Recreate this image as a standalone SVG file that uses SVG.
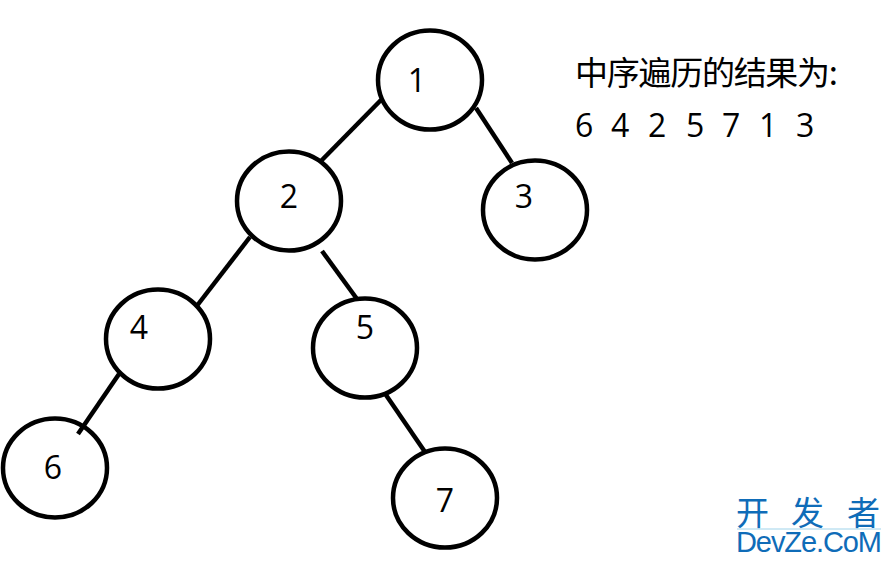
<svg xmlns="http://www.w3.org/2000/svg" width="892" height="564" viewBox="0 0 892 564">
<style>
.n{fill:none;stroke:#000;stroke-width:4.500}
.c line{stroke:#000;stroke-width:4.500;stroke-linecap:butt}
text{font-family:"Open Sans","Noto Sans CJK SC",sans-serif;fill:#000;font-size:32px}
.l{text-anchor:middle}
.cn{font-family:"Noto Sans CJK SC","Noto Sans",sans-serif;font-size:33px}
.logo{font-family:"Noto Sans CJK SC",sans-serif;fill:#0f6cb8;font-size:33px}
.dz{font-family:"Liberation Sans",sans-serif;fill:#0f6cb8;font-size:29px}
</style>
<rect width="892" height="564" fill="#fff"/>
<g id="connectors" class="c">
<line x1="381" y1="100" x2="321" y2="161"/>
<line x1="476" y1="108" x2="512" y2="163"/>
<line x1="250" y1="237" x2="196" y2="307"/>
<line x1="322" y1="251" x2="357" y2="299"/>
<line x1="119" y1="374" x2="78" y2="434"/>
<line x1="386" y1="395" x2="425" y2="452"/>
</g>
<g id="node1"><ellipse class="n" cx="430" cy="80" rx="52" ry="49.500"/><text class="l" x="417" y="92">1</text></g>
<g id="node2"><ellipse class="n" cx="289" cy="201" rx="52" ry="49.500"/><text class="l" x="289" y="208">2</text></g>
<g id="node3"><ellipse class="n" cx="535" cy="210" rx="52" ry="49.500"/><text class="l" x="524" y="208">3</text></g>
<g id="node4"><ellipse class="n" cx="158" cy="339" rx="52" ry="49.500"/><text class="l" x="139" y="339">4</text></g>
<g id="node5"><ellipse class="n" cx="365" cy="348" rx="52" ry="49.500"/><text class="l" x="365" y="339">5</text></g>
<g id="node6"><ellipse class="n" cx="55" cy="468" rx="52" ry="49.500"/><text class="l" x="53" y="479">6</text></g>
<g id="node7"><ellipse class="n" cx="445" cy="498" rx="52" ry="49.500"/><text class="l" x="445" y="512">7</text></g>
<g id="caption">
<text class="cn" x="575" y="85" textLength="263">中序遍历的结果为:</text>
<text x="575" y="137">6</text><text x="611" y="137">4</text><text x="648" y="137">2</text><text x="686" y="137">5</text><text x="722" y="137">7</text><text x="759" y="137">1</text><text x="796" y="137">3</text>
</g>
<g id="logo">
<text class="logo" x="736" y="525">开</text>
<text class="logo" x="791" y="525">发</text>
<text class="logo" x="847" y="525">者</text>
<line x1="737" y1="529" x2="881" y2="529" stroke="#9fd3ea" stroke-width="1"/>
<text class="dz" x="736" y="552" textLength="146">DevZe.CoM</text>
</g>
</svg>
